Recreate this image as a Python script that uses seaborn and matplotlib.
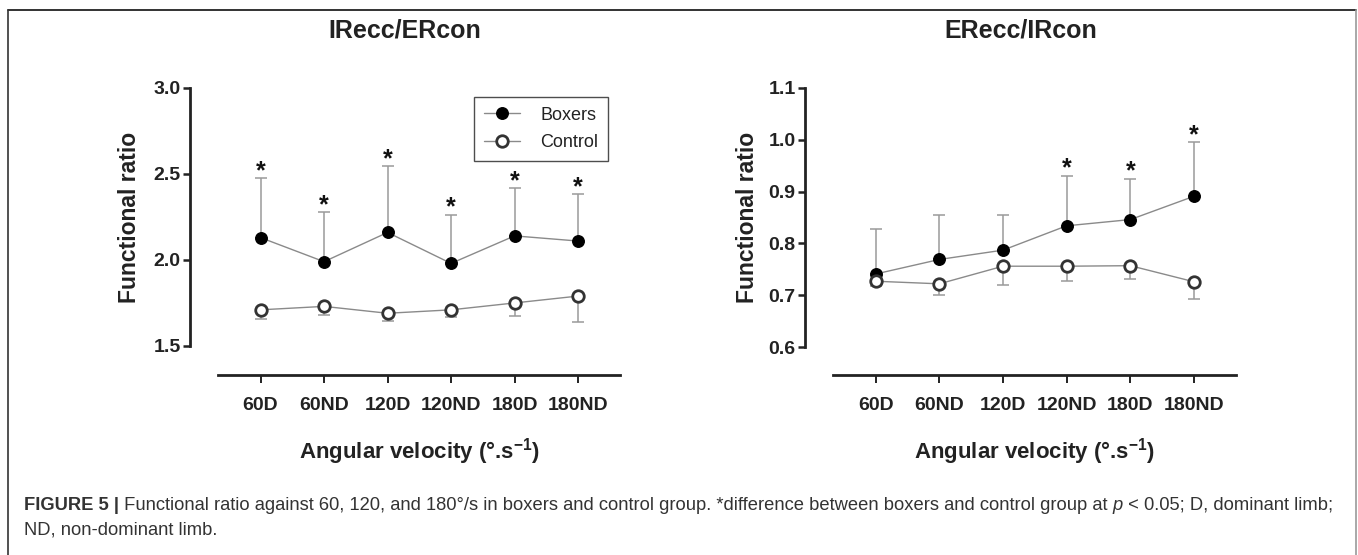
import numpy as np
import pandas as pd
import matplotlib
matplotlib.use("Agg")
import matplotlib.pyplot as plt
import seaborn as sns
from matplotlib.lines import Line2D

# ---------------- data ----------------
velocities = ["60D", "60ND", "120D", "120ND", "180D", "180ND"]

ir_boxers = [2.13, 1.99, 2.16, 1.98, 2.14, 2.11]
ir_boxers_sd = [0.345, 0.287, 0.385, 0.283, 0.278, 0.271]
ir_control = [1.71, 1.73, 1.69, 1.71, 1.75, 1.79]
ir_control_sd = [0.054, 0.049, 0.044, 0.041, 0.073, 0.148]
ir_sig = [True, True, True, True, True, True]

er_boxers = [0.741, 0.769, 0.787, 0.834, 0.846, 0.891]
er_boxers_sd = [0.086, 0.085, 0.068, 0.097, 0.079, 0.104]
er_control = [0.727, 0.722, 0.756, 0.756, 0.757, 0.726]
er_control_sd = [0.009, 0.022, 0.036, 0.029, 0.026, 0.033]
er_sig = [False, False, False, True, True, True]

titles = ["IRecc/ERcon", "ERecc/IRcon"]
y_ticks = [[1.5, 2.0, 2.5, 3.0], [0.6, 0.7, 0.8, 0.9, 1.0, 1.1]]
y_fmt = ["{:.1f}", "{:.1f}"]
y_label = "Functional ratio"
x_label = "Angular velocity (°.s$^{\\mathbf{-1}}$)"
caption_bold = "FIGURE 5 |"
caption_rest = (" Functional ratio against 60, 120, and 180°/s in boxers and control group. "
                "*difference between boxers and control group at ")
caption_p = "p"
caption_rest2 = " < 0.05; D, dominant limb;"
caption_line2 = "ND, non-dominant limb."

# ---------------- style ----------------
sns.set_style("ticks")
plt.rcParams["font.family"] = ["Liberation Sans", "DejaVu Sans"]
plt.rcParams["mathtext.fontset"] = "custom"
plt.rcParams["mathtext.rm"] = "Liberation Sans"
plt.rcParams["mathtext.bf"] = "Liberation Sans:bold"

W, H = 1358, 555
fig = plt.figure(figsize=(W / 100, H / 100), dpi=100)


def fx(px):
    return px / W


def fy(py):
    return 1 - py / H


AX_COL = "#222222"
panels = [
    dict(left=218, right=620, top=88, bottom=375, ylim=(1.331, 3.0),
         boxers=ir_boxers, bsd=ir_boxers_sd, control=ir_control, csd=ir_control_sd,
         sig=ir_sig, legend=True, ylab_px=130),
    dict(left=833, right=1236, top=88, bottom=375, ylim=(0.546, 1.1),
         boxers=er_boxers, bsd=er_boxers_sd, control=er_control, csd=er_control_sd,
         sig=er_sig, legend=False, ylab_px=748),
]

for i, p in enumerate(panels):
    ax = fig.add_axes([fx(p["left"]), fy(p["bottom"]),
                       fx(p["right"] - p["left"]), (p["bottom"] - p["top"]) / H])
    # spine placement first (it resets tick objects)
    for side in ["top", "right"]:
        ax.spines[side].set_visible(False)
    ax.spines["left"].set_position(("outward", 20))

    pos = np.arange(len(velocities))
    df = pd.DataFrame({
        "velocity": velocities * 2,
        "pos": np.concatenate([pos, pos]),
        "ratio": list(p["boxers"]) + list(p["control"]),
        "group": ["Boxers"] * len(velocities) + ["Control"] * len(velocities),
    })

    # error bars (one-sided)
    zeros = np.zeros(len(velocities))
    ax.errorbar(pos, p["boxers"], yerr=[zeros, p["bsd"]], fmt="none",
                ecolor="#9a9a9a", elinewidth=1.1, capsize=4.5, capthick=1.1, zorder=1)
    ax.errorbar(pos, p["control"], yerr=[p["csd"], zeros], fmt="none",
                ecolor="#9a9a9a", elinewidth=1.1, capsize=4.5, capthick=1.1, zorder=1)

    sns.lineplot(data=df[df.group == "Boxers"], x="pos", y="ratio", ax=ax,
                 color="#8a8a8a", linewidth=1.0, marker="o", markersize=8.3,
                 markerfacecolor="black", markeredgecolor="black",
                 markeredgewidth=1.0, label="Boxers", zorder=3)
    sns.lineplot(data=df[df.group == "Control"], x="pos", y="ratio", ax=ax,
                 color="#8a8a8a", linewidth=1.0, marker="o", markersize=8.3,
                 markerfacecolor="white", markeredgecolor="#333333",
                 markeredgewidth=2.0, label="Control", zorder=3)

    # significance stars
    for x, b, s, sig in zip(pos, p["boxers"], p["bsd"], p["sig"]):
        if sig:
            ax.annotate("*", (x, b + s), xytext=(0, 0), textcoords="offset points",
                        ha="center", va="baseline", fontsize=18, fontweight="bold",
                        color="#111111", annotation_clip=False)

    ax.set_xlim(-0.67, 5.66)
    ax.set_ylim(*p["ylim"])
    yt = y_ticks[i]
    ax.spines["left"].set_bounds(yt[0], yt[-1])
    for side in ["left", "bottom"]:
        ax.spines[side].set_linewidth(2.0)
        ax.spines[side].set_color(AX_COL)
    ax.set_xticks(pos)
    ax.set_xticklabels(velocities, fontsize=14, fontweight="bold", color=AX_COL)
    ax.set_yticks(yt)
    ax.set_yticklabels([y_fmt[i].format(v) for v in yt], fontsize=14,
                       fontweight="bold", color=AX_COL)
    ax.tick_params(axis="y", direction="out", length=5, width=1.8, color=AX_COL, pad=2)
    ax.tick_params(axis="x", direction="out", length=6, width=1.4, color=AX_COL, pad=10)

    ax.set_xlabel(x_label, fontsize=16, fontweight="bold", color=AX_COL)
    ax.xaxis.set_label_coords(0.5, -0.265)
    ax.xaxis.label.set_va("center")
    ax.set_ylabel(y_label, fontsize=16.5, fontweight="bold", color=AX_COL)
    ax.yaxis.set_label_coords((p["ylab_px"] - p["left"]) / (p["right"] - p["left"]), 0.55)
    ax.yaxis.label.set_va("center")

    ax.set_title(titles[i], fontsize=18, fontweight="bold", color=AX_COL,
                 x=0.465, y=1.17, va="center")

    if p["legend"]:
        leg = ax.legend(loc="upper right", bbox_to_anchor=(0.97, 0.97),
                        frameon=True, fancybox=False, shadow=False,
                        fontsize=13, handlelength=2.0, handletextpad=1.1,
                        borderpad=0.55, labelspacing=0.6, borderaxespad=0)
        leg.get_frame().set_edgecolor("#222222")
        leg.get_frame().set_linewidth(1.0)
        for t in leg.get_texts():
            t.set_color("#222222")
    else:
        lg = ax.get_legend()
        if lg is not None:
            lg.remove()

# ---------------- caption ----------------
fig.canvas.draw()
renderer = fig.canvas.get_renderer()
cap_size = 13.2
cap_col = "#333333"
x0 = fx(24)
t1 = fig.text(x0, fy(505), caption_bold, fontsize=cap_size, fontweight="bold",
              color=cap_col, va="center", ha="left")
xe = t1.get_window_extent(renderer).x1 / W
t2 = fig.text(xe, fy(505), caption_rest, fontsize=cap_size, color=cap_col,
              va="center", ha="left")
xe = t2.get_window_extent(renderer).x1 / W
t3 = fig.text(xe, fy(505), caption_p, fontsize=cap_size, color=cap_col,
              style="italic", va="center", ha="left")
xe = t3.get_window_extent(renderer).x1 / W
fig.text(xe, fy(505), caption_rest2, fontsize=cap_size, color=cap_col,
         va="center", ha="left")
fig.text(x0, fy(530), caption_line2, fontsize=cap_size, color=cap_col,
         va="center", ha="left")

# ---------------- frame around figure ----------------
fig.add_artist(Line2D([fx(8), fx(1356)], [fy(10), fy(10)], color="#222222", lw=1.3))
fig.add_artist(Line2D([fx(8), fx(8)], [fy(10), 0], color="#333333", lw=1.2))
fig.add_artist(Line2D([fx(1356), fx(1356)], [fy(10), 0], color="#999999", lw=1.2))

fig.savefig("out.png", dpi=100, facecolor="white")
